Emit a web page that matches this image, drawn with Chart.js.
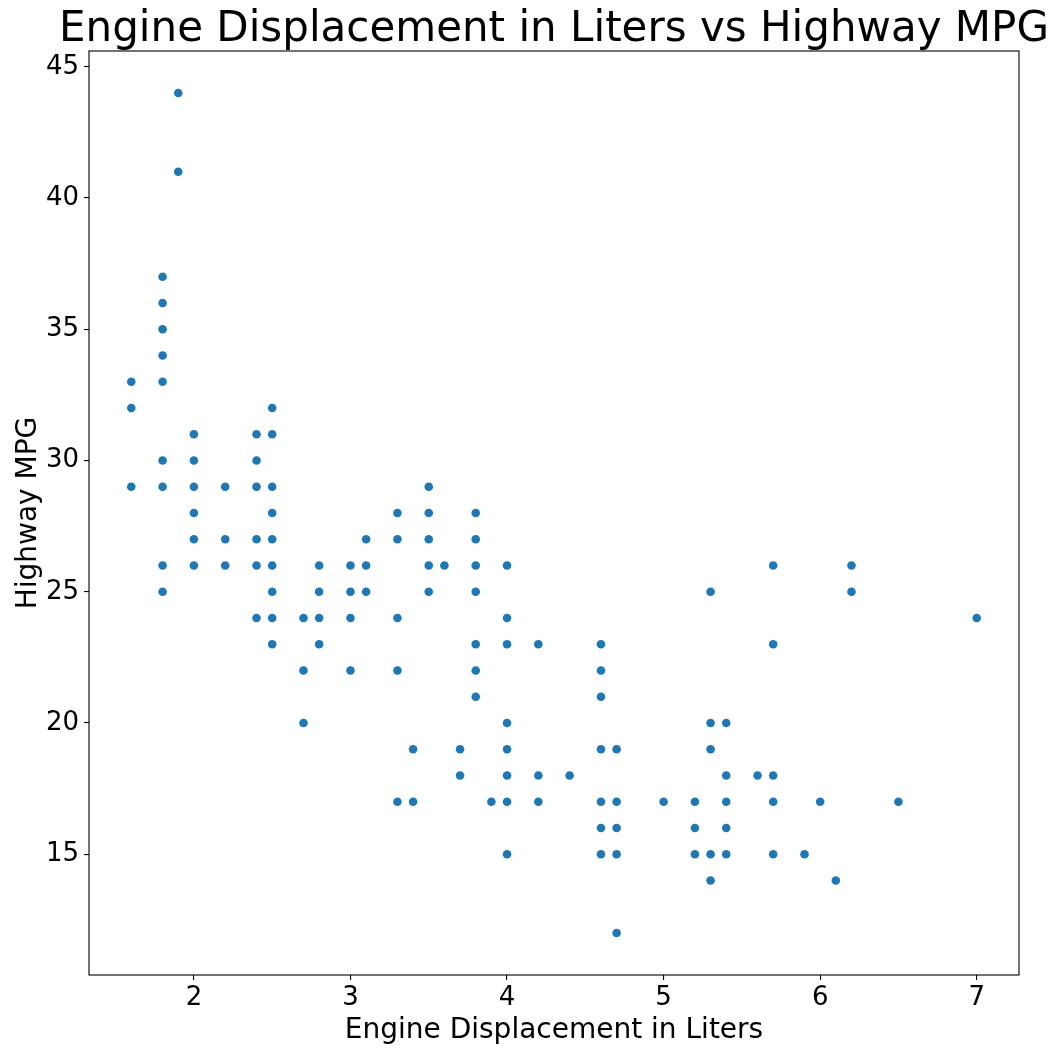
<!DOCTYPE html>
<html>
<head>
<meta charset="utf-8">
<script src="https://cdn.jsdelivr.net/npm/chart.js@4/dist/chart.umd.min.js"></script>
<style>
  html, body { margin: 0; padding: 0; background: #fff; }
  #wrap { width: 1060px; height: 1056px; position: relative; }
</style>
</head>
<body>
<div id="wrap"><canvas id="grafico"></canvas></div>
<script>
// valores: cilindrada (L) e os mpg na estrada vistos em cada uma
const displacements = [1.6, 1.8, 1.9, 2.0, 2.2, 2.4, 2.5, 2.7, 2.8, 3.0, 3.1, 3.3, 3.4, 3.5, 3.6, 3.7, 3.8, 3.9,
  4.0, 4.2, 4.4, 4.6, 4.7, 5.0, 5.2, 5.3, 5.4, 5.6, 5.7, 5.9, 6.0, 6.1, 6.2, 6.5, 7.0];
const hwyByDispl = [
  [33, 32, 29],
  [37, 36, 35, 34, 33, 30, 29, 26, 25],
  [44, 41],
  [31, 30, 29, 28, 27, 26],
  [29, 27, 26],
  [31, 30, 29, 27, 26, 24],
  [32, 31, 29, 28, 27, 26, 25, 24, 23],
  [24, 22, 20],
  [26, 25, 24, 23],
  [26, 25, 24, 22],
  [27, 26, 25],
  [28, 27, 24, 22, 17],
  [19, 17],
  [29, 28, 27, 26, 25],
  [26],
  [19, 18],
  [28, 27, 26, 25, 23, 22, 21],
  [17],
  [26, 24, 23, 20, 19, 18, 17, 15],
  [23, 18, 17],
  [18],
  [23, 22, 21, 19, 17, 16, 15],
  [19, 17, 16, 15, 12],
  [17],
  [17, 16, 15],
  [25, 20, 19, 15, 14],
  [20, 18, 17, 16, 15],
  [18],
  [26, 23, 18, 17, 15],
  [15],
  [17],
  [14],
  [26, 25],
  [17],
  [24]
];
const xTicks = [2, 3, 4, 5, 6, 7];
const yTicks = [15, 20, 25, 30, 35, 40, 45];
const titulo = "Engine Displacement in Liters vs Highway MPG";

const pontos = [];
displacements.forEach((d, i) => {
  hwyByDispl[i].forEach(h => pontos.push({ x: d, y: h }));
});

const fonte = "'DejaVu Sans', sans-serif";

// moldura completa e título centrado na área do gráfico (sem compressão do texto)
const moldura = {
  id: "moldura",
  afterDatasetsDraw(chart) {
    const { ctx, chartArea: a } = chart;
    ctx.save();
    ctx.strokeStyle = "#000";
    ctx.lineWidth = 1.1;
    ctx.strokeRect(a.left, a.top, a.right - a.left, a.bottom - a.top);
    ctx.fillStyle = "#000";
    ctx.font = "42px " + fonte;
    ctx.textAlign = "center";
    ctx.textBaseline = "alphabetic";
    ctx.fillText(titulo, (a.left + a.right) / 2, a.top - 10);
    ctx.restore();
  }
};

new Chart(document.getElementById("grafico"), {
  type: "scatter",
  data: {
    datasets: [{
      label: "hwy",
      data: pontos,
      backgroundColor: "#1f77b4",
      borderColor: "#1f77b4",
      borderWidth: 0,
      pointRadius: 4.3,
      pointHoverRadius: 4.3
    }]
  },
  options: {
    responsive: true,
    maintainAspectRatio: false,
    animation: false,
    layout: { padding: { left: 0, right: 41, top: 51, bottom: 0 } },
    plugins: {
      legend: { display: false },
      tooltip: { enabled: false },
      title: { display: false }
    },
    scales: {
      x: {
        type: "linear",
        min: 1.33,
        max: 7.27,
        afterBuildTicks: s => { s.ticks = xTicks.map(v => ({ value: v })); },
        afterFit: s => { s.height = 81; },
        grid: { display: true, drawOnChartArea: false, drawTicks: true, tickLength: 5, color: "#000", lineWidth: 1.1 },
        border: { display: false },
        ticks: { color: "#000", padding: 3, font: { family: fonte, size: 26 }, maxRotation: 0 },
        title: {
          display: true,
          text: "Engine Displacement in Liters",
          color: "#000",
          font: { family: fonte, size: 28 },
          padding: { top: 0, bottom: 8 }
        }
      },
      y: {
        type: "linear",
        min: 10.4,
        max: 45.6,
        afterBuildTicks: s => { s.ticks = yTicks.map(v => ({ value: v })); },
        afterFit: s => { s.width = 89; },
        grid: { display: true, drawOnChartArea: false, drawTicks: true, tickLength: 5, color: "#000", lineWidth: 1.1 },
        border: { display: false },
        ticks: { color: "#000", padding: 5, font: { family: fonte, size: 26 } },
        title: {
          display: true,
          text: "Highway MPG",
          color: "#000",
          font: { family: fonte, size: 28 },
          padding: { top: 12, bottom: 0 }
        }
      }
    }
  },
  plugins: [moldura]
});
</script>
</body>
</html>
